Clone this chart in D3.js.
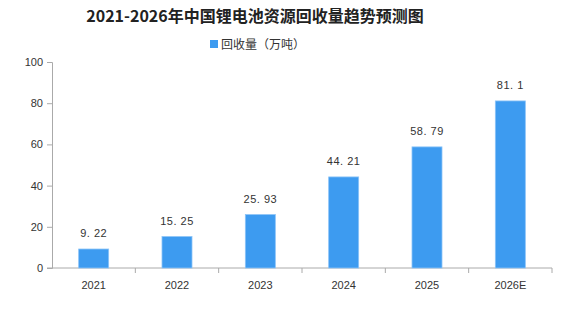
<!DOCTYPE html>
<html>
<head>
<meta charset="utf-8">
<script src="https://cdn.jsdelivr.net/npm/d3@7"></script>
<style>
  body { margin: 0; background: #fff; }
  svg { display: block; }
</style>
</head>
<body>
<div id="chart"></div>
<script>
const years = ["2021", "2022", "2023", "2024", "2025", "2026E"];
const recycled = [9.22, 15.25, 25.93, 44.21, 58.79, 81.1];
const yTicks = [0, 20, 40, 60, 80, 100];

const width = 570, height = 309;
const margin = { top: 62, right: 18, bottom: 41, left: 52 };

const svg = d3.select("#chart").append("svg")
    .attr("width", width)
    .attr("height", height);

const x = d3.scaleBand()
    .domain(years)
    .range([margin.left, width - margin.right])
    .paddingInner(0.64)
    .paddingOuter(0.32);

const y = d3.scaleLinear()
    .domain([0, 100])
    .range([height - margin.bottom, margin.top]);

// title
svg.append("text")
    .attr("x", 255)
    .attr("y", 22)
    .attr("text-anchor", "middle")
    .attr("font-family", "'Noto Sans CJK SC', sans-serif")
    .attr("font-size", "16px")
    .attr("font-weight", "bold")
    .attr("fill", "#222")
    .text("2021-2026年中国锂电池资源回收量趋势预测图");

// legend
svg.append("rect")
    .attr("x", 210).attr("y", 40)
    .attr("width", 8).attr("height", 8)
    .attr("fill", "#3d9bf0");
svg.append("text")
    .attr("x", 221).attr("y", 48.5)
    .attr("font-family", "'Noto Sans CJK SC', sans-serif")
    .attr("font-size", "12px")
    .attr("fill", "#333")
    .text("回收量（万吨）");

// y axis
const yAxis = svg.append("g")
    .attr("transform", `translate(${margin.left},0)`)
    .call(d3.axisLeft(y).tickValues(yTicks).tickSize(5).tickPadding(4));
yAxis.selectAll("text")
    .attr("font-family", "'Liberation Sans', Arial, sans-serif")
    .attr("font-size", "11px")
    .attr("fill", "#333");
yAxis.selectAll("line, path").attr("stroke", "#aaa");

// x axis: ticks at band boundaries
const xAxisG = svg.append("g")
    .attr("transform", `translate(0,${y(0)})`);
xAxisG.append("line")
    .attr("x1", margin.left - 5).attr("x2", width - margin.right)
    .attr("stroke", "#aaa");
const step = x.step();
const bounds = years.map((d, i) => x(d) - x.paddingOuter() * step + (i === 0 ? 0 : 0));
xAxisG.selectAll(".tick")
    .data(years.slice(1).concat(["end"]))
    .join("line")
    .attr("x1", (d, i) => margin.left + (i + 1) * (width - margin.right - margin.left) / years.length)
    .attr("x2", (d, i) => margin.left + (i + 1) * (width - margin.right - margin.left) / years.length)
    .attr("y1", 0).attr("y2", 5)
    .attr("stroke", "#aaa");
xAxisG.selectAll("text")
    .data(years)
    .join("text")
    .attr("x", d => x(d) + x.bandwidth() / 2)
    .attr("y", 21)
    .attr("text-anchor", "middle")
    .attr("font-family", "'Liberation Sans', Arial, sans-serif")
    .attr("font-size", "11px")
    .attr("fill", "#333")
    .text(d => d);

// bars
svg.append("g")
    .selectAll("rect")
    .data(recycled)
    .join("rect")
    .attr("x", (d, i) => x(years[i]))
    .attr("y", d => y(d))
    .attr("width", x.bandwidth())
    .attr("height", d => y(0) - y(d))
    .attr("fill", "#3d9bf0")
    .attr("stroke", "#8cc4f7")
    .attr("stroke-width", 0.8);

// value labels
svg.append("g")
    .selectAll("text")
    .data(recycled)
    .join("text")
    .attr("x", (d, i) => x(years[i]) + x.bandwidth() / 2)
    .attr("y", d => y(d) - 12)
    .attr("text-anchor", "middle")
    .attr("font-family", "'Liberation Sans', Arial, sans-serif")
    .attr("font-size", "11px")
    .attr("letter-spacing", "0.5px")
    .attr("fill", "#333")
    .text(d => String(d).replace(".", ". "));
</script>
</body>
</html>
